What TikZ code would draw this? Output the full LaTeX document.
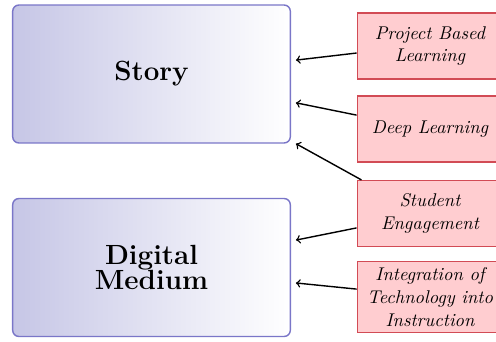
\documentclass[tikz,border=0pt]{standalone}
\usepackage{tikz}
\definecolor{boxblue}{RGB}{122,118,200}
\definecolor{boxlav}{RGB}{198,198,230}
\definecolor{boxred}{RGB}{210,75,85}
\definecolor{fillred}{RGB}{255,205,208}

\begin{document}
\begin{tikzpicture}[x=0.02cm,y=-0.02cm,
  bigbox/.style={draw=boxblue, thick, rounded corners=3.5pt, left color=boxlav, right color=white,
    minimum width=158pt, minimum height=78.5pt, align=center, font=\fontsize{15.8}{14.7}\selectfont\bfseries},
  redbox/.style={draw=boxred, thick, fill=fillred, minimum width=82.8pt, minimum height=37.4pt,
    align=center, font=\fontsize{10.5}{13}\selectfont\itshape},
  arr/.style={->, thick}]

\clip (0,0) rectangle (496,341);

\node[bigbox] (story) at (151.5,74) {Story};
\node[bigbox] (digital) at (151.5,267.5) {Digital\\Medium};

\node[redbox] (pbl) at (430,46) {Project Based\\Learning};
\node[redbox] (deep) at (430,129) {Deep Learning};
\node[redbox] (engage) at (430,213.5) {Student\\Engagement};
\node[redbox] (integ) at (430,297) {Integration of\\Technology into\\Instruction};

\draw[arr] ([yshift=-4pt]pbl.west) -- ([xshift=2.8pt,yshift=7.9pt]story.east);
\draw[arr] ([yshift=7.9pt]deep.west) -- ([xshift=2.8pt,yshift=-16.4pt]story.east);
\draw[arr] ([xshift=2.8pt]engage.north west) -- ([xshift=2.8pt]story.south east);
\draw[arr] ([yshift=-8.2pt]engage.west) -- ([xshift=2.8pt,yshift=15.6pt]digital.east);
\draw[arr] ([yshift=4.5pt]integ.west) -- ([xshift=2.8pt,yshift=-8.8pt]digital.east);
\end{tikzpicture}
\end{document}
